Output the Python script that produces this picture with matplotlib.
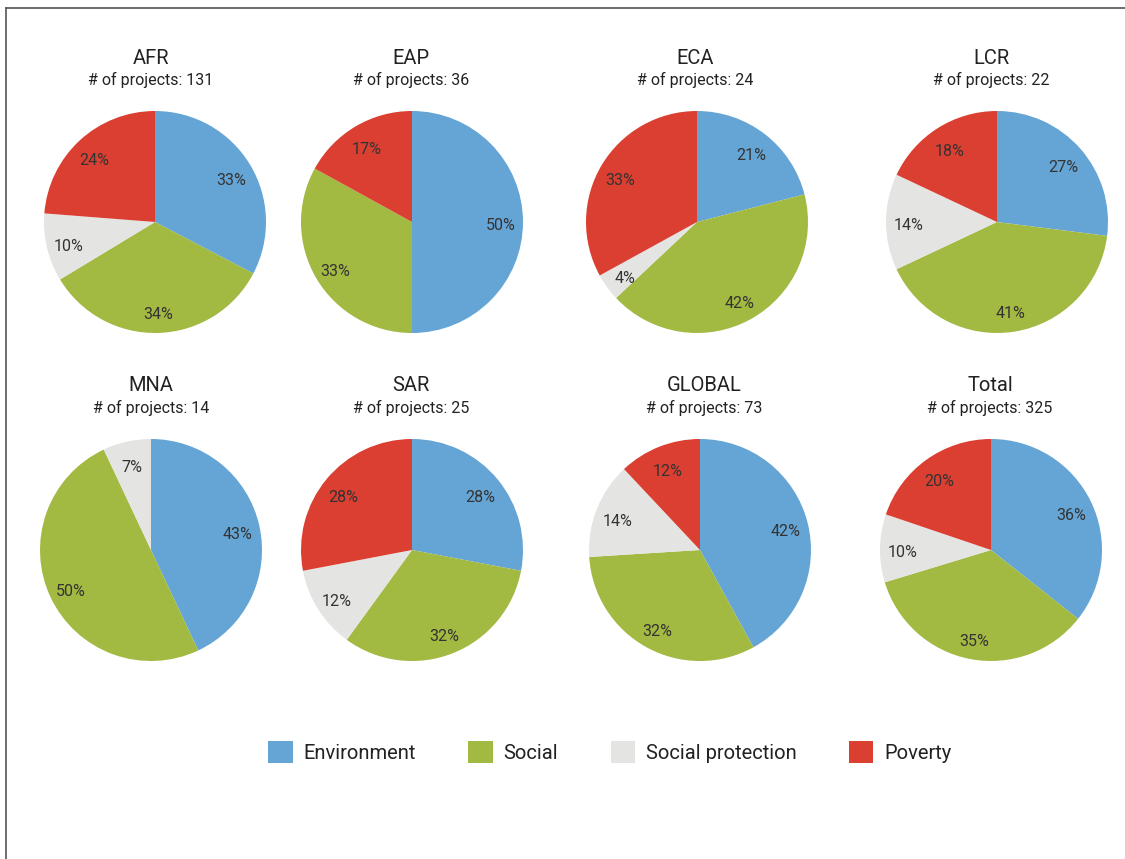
import matplotlib
matplotlib.use("Agg")
import matplotlib.pyplot as plt
from matplotlib.lines import Line2D
from matplotlib.transforms import ScaledTranslation

plt.rcParams['font.family'] = ['Roboto', 'DejaVu Sans']

regions = ["AFR", "EAP", "ECA", "LCR", "MNA", "SAR", "GLOBAL", "Total"]
projects = [131, 36, 24, 22, 14, 25, 73, 325]
categories = ["Environment", "Social", "Social protection", "Poverty"]
environment = [33, 50, 21, 27, 43, 28, 42, 36]
social = [34, 33, 42, 41, 50, 32, 32, 35]
social_protection = [10, 0, 4, 14, 7, 12, 14, 10]
poverty = [24, 17, 33, 18, 0, 28, 12, 20]

colors = ["#65A5D5", "#A2B942", "#E4E4E2", "#DB3F31"]

W, H = 1125, 859
fig = plt.figure(figsize=(W / 100, H / 100), dpi=100)

centers = [(155, 222), (412, 222), (697, 222), (997, 222),
           (151, 550), (412, 550), (700, 550), (991, 550)]
title_x = [151, 411, 695, 991, 151, 411, 704, 990]
R = 111

wedges_ref = None
for i, reg in enumerate(regions):
    cx, cy = centers[i]
    ax = fig.add_axes([(cx - R) / W, 1 - (cy + R) / H, 2 * R / W, 2 * R / H])
    vals = [environment[i], social[i], social_protection[i], poverty[i]]
    labels = [f"{v}%" if v > 0 else "" for v in vals]
    wedges, texts = ax.pie(vals, colors=colors, startangle=90, counterclock=False,
                           labels=labels, labeldistance=0.8,
                           wedgeprops=dict(linewidth=0),
                           textprops=dict(fontsize=11.5, color="#333333"))
    for t in texts:
        t.set_ha("center"); t.set_va("center")
        t.set_transform(t.get_transform() + ScaledTranslation(0, -0.04, fig.dpi_scale_trans))
    ax.set_xlim(-1, 1); ax.set_ylim(-1, 1)
    ax.set_aspect("equal")
    ax.axis("off")
    if wedges_ref is None:
        wedges_ref = wedges
    ty = cy - 164
    tx = title_x[i]
    fig.text(tx / W, 1 - ty / H, reg, ha="center", va="center", fontsize=14.5, color="#222222")
    fig.text(tx / W, 1 - (ty + 22) / H, f"# of projects: {projects[i]}", ha="center",
             va="center", fontsize=11.5, color="#222222")

fig.legend(wedges_ref, categories, loc="center", bbox_to_anchor=(610 / W, 1 - 752 / H),
           ncol=4, frameon=False, fontsize=14.5, handlelength=1.2, handleheight=1.25,
           columnspacing=2.6, handletextpad=0.55, labelcolor="#222222")

fig.add_artist(Line2D([6 / W, 6 / W], [0, 1 - 8 / H], transform=fig.transFigure, color="#555555", lw=1.2))
fig.add_artist(Line2D([6 / W, 1], [1 - 8 / H, 1 - 8 / H], transform=fig.transFigure, color="#555555", lw=1.2))

fig.savefig("out.png", dpi=100)
